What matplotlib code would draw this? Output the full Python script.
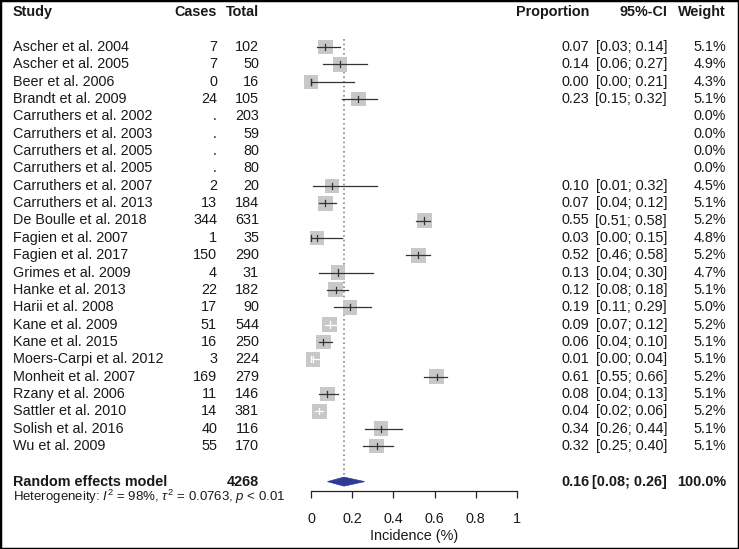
import numpy as np
import matplotlib.pyplot as plt
from matplotlib.patches import Rectangle, Polygon

plt.rcParams['font.family'] = ['Liberation Sans', 'DejaVu Sans']
plt.rcParams['mathtext.fontset'] = 'custom'
plt.rcParams['mathtext.rm'] = 'Liberation Sans'
plt.rcParams['mathtext.it'] = 'Liberation Sans:italic'

# data
studies = ['Ascher et al. 2004', 'Ascher et al. 2005', 'Beer et al. 2006', 'Brandt et al. 2009',
           'Carruthers et al. 2002', 'Carruthers et al. 2003', 'Carruthers et al. 2005',
           'Carruthers et al. 2005', 'Carruthers et al. 2007', 'Carruthers et al. 2013',
           'De Boulle et al. 2018', 'Fagien et al. 2007', 'Fagien et al. 2017', 'Grimes et al. 2009',
           'Hanke et al. 2013', 'Harii et al. 2008', 'Kane et al. 2009', 'Kane et al. 2015',
           'Moers-Carpi et al. 2012', 'Monheit et al. 2007', 'Rzany et al. 2006',
           'Sattler et al. 2010', 'Solish et al. 2016', 'Wu et al. 2009']
cases = ['7', '7', '0', '24', '.', '.', '.', '.', '2', '13', '344', '1', '150', '4', '22', '17',
         '51', '16', '3', '169', '11', '14', '40', '55']
totals = [102, 50, 16, 105, 203, 59, 80, 80, 20, 184, 631, 35, 290, 31, 182, 90, 544, 250,
          224, 279, 146, 381, 116, 170]
prop = [0.07, 0.14, 0.00, 0.23, None, None, None, None, 0.10, 0.07, 0.55, 0.03, 0.52, 0.13,
        0.12, 0.19, 0.09, 0.06, 0.01, 0.61, 0.08, 0.04, 0.34, 0.32]
lower = [0.03, 0.06, 0.00, 0.15, None, None, None, None, 0.01, 0.04, 0.51, 0.00, 0.46, 0.04,
         0.08, 0.11, 0.07, 0.04, 0.00, 0.55, 0.04, 0.02, 0.26, 0.25]
upper = [0.14, 0.27, 0.21, 0.32, None, None, None, None, 0.32, 0.12, 0.58, 0.15, 0.58, 0.30,
         0.18, 0.29, 0.12, 0.10, 0.04, 0.66, 0.13, 0.06, 0.44, 0.40]
weight = [5.1, 4.9, 4.3, 5.1, 0.0, 0.0, 0.0, 0.0, 4.5, 5.1, 5.2, 4.8, 5.2, 4.7, 5.1, 5.0,
          5.2, 5.1, 5.1, 5.2, 5.1, 5.2, 5.1, 5.1]
pooled = 0.16
pooled_lo = 0.08
pooled_hi = 0.26
total_n = 4268
ticks = [0, 0.2, 0.4, 0.6, 0.8, 1]

W, H = 739, 549
x0_px, unit_px = 311, 206      # pixel of x=0, pixels per unit
row0_px, row_px = 47, 17.35    # pixel of first study row, row spacing

fig = plt.figure(figsize=(W / 100, H / 100), dpi=100)
ax = fig.add_axes([0, 0, 1, 1])
ax.set_xlim(-x0_px / unit_px, (W - x0_px) / unit_px)
ax.set_ylim(1 + (H - row0_px) / row_px, 1 - row0_px / row_px)
ax.axis('off')


def px(p):
    return (p - x0_px) / unit_px


fs = 10.4
tc = '#1a1a1a'
n = len(studies)
rows = np.arange(1, n + 1)

# header
ax.text(px(13), -1, 'Study', ha='left', va='center', fontsize=fs, fontweight='bold', color=tc)
ax.text(px(217), -1, 'Cases', ha='right', va='center', fontsize=fs, fontweight='bold', color=tc)
ax.text(px(259), -1, 'Total', ha='right', va='center', fontsize=fs, fontweight='bold', color=tc)
ax.text(px(589), -1, 'Proportion', ha='right', va='center', fontsize=fs, fontweight='bold', color=tc)
ax.text(px(667), -1, '95%-CI', ha='right', va='center', fontsize=fs, fontweight='bold', color=tc)
ax.text(px(726), -1, 'Weight', ha='right', va='center', fontsize=fs, fontweight='bold', color=tc)

# reference line at pooled estimate
ax.plot([pooled, pooled], [0.55, 25.7], color='#888888', lw=1.2, ls=(0, (1.0, 1.8)), zorder=1)

for r, s, c, t, p, lo, hi, w in zip(rows, studies, cases, totals, prop, lower, upper, weight):
    ax.text(px(13), r, s, ha='left', va='center', fontsize=fs, color=tc)
    ax.text(px(217), r, c, ha='right', va='center', fontsize=fs, color=tc)
    ax.text(px(259), r, str(t), ha='right', va='center', fontsize=fs, color=tc)
    ax.text(px(726), r, f'{w:.1f}%', ha='right', va='center', fontsize=fs, color=tc)
    if p is None:
        continue
    ax.text(px(589), r, f'{p:.2f}', ha='right', va='center', fontsize=fs, color=tc)
    ax.text(px(667), r, f'[{lo:.2f}; {hi:.2f}]', ha='right', va='center', fontsize=fs, color=tc)
    side = 15 * np.sqrt(w / 5.2)
    hw = side / 2 / unit_px
    hh = side / 2 / row_px
    ax.add_patch(Rectangle((p - hw, r - hh), 2 * hw, 2 * hh, facecolor='#c8c8c8',
                           edgecolor='none', zorder=2))
    lc = 'white' if (p - lo) < hw and (hi - p) < hw else '#333333'
    ax.plot([lo, hi], [r, r], color=lc, lw=0.9, zorder=3)
    ax.plot([p, p], [r - 0.18, r + 0.18], color=lc, lw=0.9, zorder=3)
    if lo == 0.0:
        ax.plot([lo, lo], [r - 0.18, r + 0.18], color=lc, lw=0.9, zorder=3)

# random effects model
rr = 26.05
ax.text(px(13), rr, 'Random effects model', ha='left', va='center', fontsize=fs,
        fontweight='bold', color=tc)
ax.text(px(259), rr, str(total_n), ha='right', va='center', fontsize=fs, fontweight='bold', color=tc)
ax.text(px(589), rr, f'{pooled:.2f}', ha='right', va='center', fontsize=fs, fontweight='bold', color=tc)
ax.text(px(667), rr, f'[{pooled_lo:.2f}; {pooled_hi:.2f}]', ha='right', va='center', fontsize=fs,
        fontweight='bold', color=tc)
ax.text(px(726), rr, '100.0%', ha='right', va='center', fontsize=fs, fontweight='bold', color=tc)
ax.add_patch(Polygon([[pooled_lo, rr], [pooled, rr - 0.26], [pooled_hi, rr], [pooled, rr + 0.26]],
                     closed=True, facecolor='#2e3b96', edgecolor='#2e3b96', lw=0.5, zorder=3))
ax.text(px(13), 26.95, r'Heterogeneity: $I^2$ = 98%, $\tau^2$ = 0.0763, $p$ < 0.01',
        ha='left', va='center', fontsize=9.5, color=tc)

# x axis
ax2 = fig.add_axes([x0_px / W, 1 - 491 / H, unit_px / W, 0.0001])
ax2.set_xlim(0, 1)
ax2.set_ylim(0, 1)
ax2.patch.set_visible(False)
for sp in ['top', 'left', 'right']:
    ax2.spines[sp].set_visible(False)
ax2.spines['bottom'].set_color('#222222')
ax2.spines['bottom'].set_linewidth(0.9)
ax2.set_yticks([])
ax2.set_xticks(ticks)
ax2.set_xticklabels([f'{t:g}' for t in ticks], fontsize=fs, color=tc)
ax2.tick_params(axis='x', direction='out', length=5, width=0.9, color='#222222', pad=10)
ax2.set_xlabel('Incidence (%)', fontsize=fs, color=tc, labelpad=2)

fig.patches.append(Rectangle((0, 0), 1, 1, transform=fig.transFigure, fill=False,
                             edgecolor='black', lw=2.5))

fig.savefig('out.png', dpi=100)
